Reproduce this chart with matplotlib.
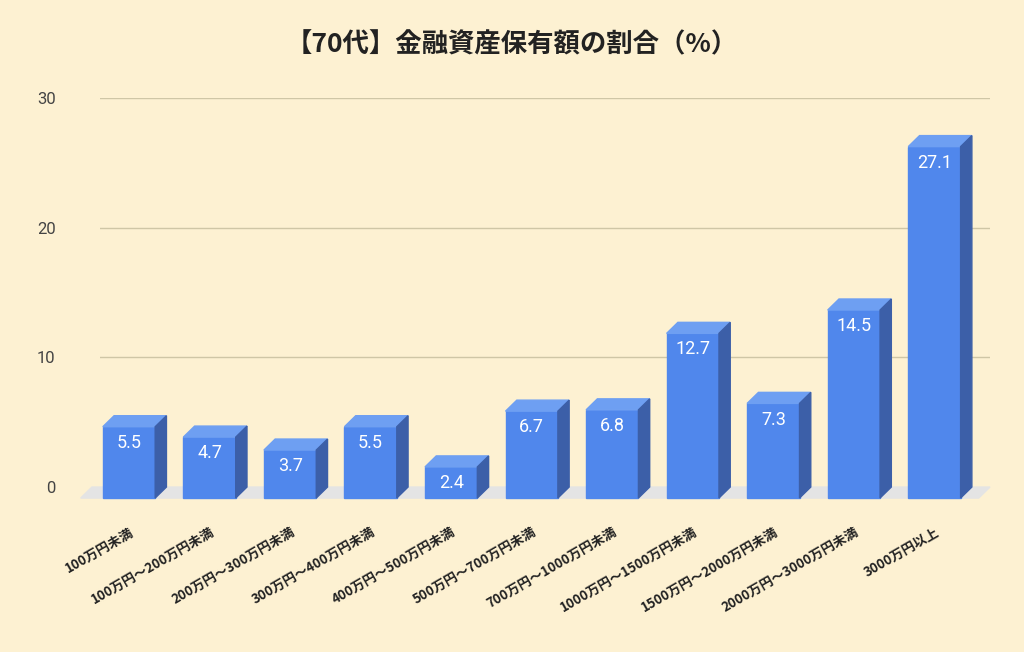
import matplotlib
matplotlib.use("Agg")
import matplotlib.pyplot as plt
from matplotlib.patches import Polygon

plt.rcParams['font.family'] = ['Noto Sans CJK JP', 'DejaVu Sans']

categories = ["100万円未満", "100万円～200万円未満", "200万円～300万円未満", "300万円～400万円未満",
              "400万円～500万円未満", "500万円～700万円未満", "700万円～1000万円未満",
              "1000万円～1500万円未満", "1500万円～2000万円未満", "2000万円～3000万円未満", "3000万円以上"]
values = [5.5, 4.7, 3.7, 5.5, 2.4, 6.7, 6.8, 12.7, 7.3, 14.5, 27.1]
yticks = [0, 10, 20, 30]

bg = "#fdf1d2"
fig = plt.figure(figsize=(10.24, 6.52), dpi=100, facecolor=bg)
ax = fig.add_axes([100/1024, 1-500/652, 890/1024, 402/652])
ax.set_facecolor(bg)
ax.set_xlim(-0.5, 10.55)
ax.set_ylim(-1.0, 30)

w = 0.65; dx = 0.14; dy = 0.85
ax.add_patch(Polygon([(-0.6-dx, -dy), (10.55-dx, -dy), (10.55, 0), (-0.6, 0)],
                     closed=True, color="#e4e4e4", zorder=1, clip_on=False))
for y in yticks[1:]:
    ax.axhline(y, color="#cfc6a6", lw=1, zorder=0)

for i, v in enumerate(values):
    l = i - w/2 - dx; r = i + w/2 - dx
    b = -dy; t = v - dy
    ax.add_patch(Polygon([(l, b), (r, b), (r, t), (l, t)], color="#5087ec", zorder=3))
    ax.add_patch(Polygon([(l, t), (r, t), (r+dx, v), (l+dx, v)], color="#6e9ff2", zorder=3))
    ax.add_patch(Polygon([(r, b), (r+dx, 0), (r+dx, v), (r, t)], color="#3c5fa8", zorder=3))
    ax.text((l+r)/2, t-0.55, f"{v}", ha="center", va="top", color="white", fontsize=13,
            family="Roboto", zorder=4)

ax.set_yticks(yticks)
ax.set_yticklabels([str(y) for y in yticks], fontsize=12, color="#444444", family="Roboto")
ax.tick_params(axis='y', length=0, pad=32)
ax.set_xticks([i - dx for i in range(len(categories))])
ax.set_xticklabels(categories, rotation=30, ha="right", rotation_mode="anchor",
                   fontsize=9.5, fontweight="bold", color="#222222")
ax.tick_params(axis='x', length=0, pad=18)
for s in ax.spines.values():
    s.set_visible(False)

fig.text(0.5, 1-45/652, "【70代】金融資産保有額の割合（%）", ha="center", va="center",
         fontsize=19, fontweight="bold", color="#222222")
fig.savefig("out.png", dpi=100, facecolor=bg)
